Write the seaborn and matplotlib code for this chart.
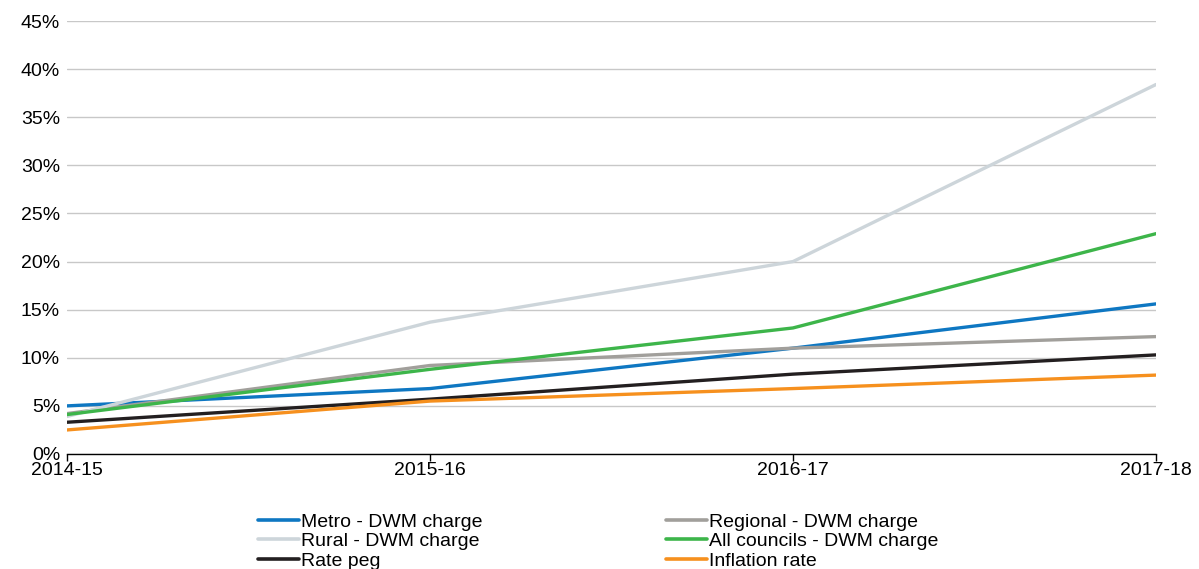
import matplotlib
matplotlib.use("Agg")
import matplotlib.pyplot as plt
import seaborn as sns
import pandas as pd
from matplotlib.ticker import FuncFormatter, MultipleLocator

years = ["2014-15", "2015-16", "2016-17", "2017-18"]
metro = [5.0, 6.8, 11.0, 15.6]
regional = [4.2, 9.2, 11.0, 12.2]
rural = [3.9, 13.7, 20.0, 38.4]
all_councils = [4.1, 8.8, 13.1, 22.9]
rate_peg = [3.3, 5.7, 8.3, 10.3]
inflation = [2.5, 5.5, 6.8, 8.2]

series_names = ["Metro - DWM charge", "Regional - DWM charge", "Rural - DWM charge",
                "All councils - DWM charge", "Rate peg", "Inflation rate"]
series_vals = [metro, regional, rural, all_councils, rate_peg, inflation]
colors = ["#0E77C2", "#A19F9B", "#CDD5DA", "#3DB54A", "#231F20", "#F6901E"]

rows = []
for name, vals in zip(series_names, series_vals):
    for i, (y, v) in enumerate(zip(years, vals)):
        rows.append({"pos": i, "year": y, "value": v, "series": name})
df = pd.DataFrame(rows)

sns.set_theme(style="white")
plt.rcParams["font.family"] = ["Liberation Sans", "DejaVu Sans"]

fig = plt.figure(figsize=(11.99, 5.69), dpi=100)
ax = fig.add_axes([67/1199, 1 - 454/569, (1156-67)/1199, (454-21)/569])

sns.lineplot(data=df, x="pos", y="value", hue="series", hue_order=series_names,
             palette=colors, linewidth=2.4, ax=ax, legend=True)

ax.set_xlim(0, 3)
ax.set_ylim(0, 45)
ax.yaxis.set_major_locator(MultipleLocator(5))
ax.yaxis.set_major_formatter(FuncFormatter(lambda v, p: f"{int(v)}%"))
ax.set_xticks(range(len(years)))
ax.set_xticklabels(years)
ax.grid(axis="y", color="#C8C8C8", linewidth=1)
ax.set_axisbelow(True)
for s in ["left", "right", "top"]:
    ax.spines[s].set_visible(False)
ax.spines["bottom"].set_color("black")
ax.spines["bottom"].set_linewidth(1)
ax.tick_params(axis="x", which="major", direction="out", length=5, width=1,
               color="black", labelsize=14, labelcolor="black", pad=1, bottom=True)
ax.tick_params(axis="y", length=0, labelsize=14, labelcolor="black", pad=5)
ax.set_xlabel("")
ax.set_ylabel("")

handles, labels = ax.get_legend_handles_labels()
ax.get_legend().remove()
order = [0, 2, 4, 1, 3, 5]
leg = fig.legend([handles[i] for i in order], [labels[i] for i in order],
                 ncol=2, loc="upper left", bbox_to_anchor=(258/1199, 1 - 513/569),
                 frameon=False, fontsize=14, handlelength=2.1, handletextpad=0.1,
                 labelspacing=0.1, columnspacing=9.45, borderpad=0, borderaxespad=0)
for t in leg.get_texts():
    t.set_color("black")
for h in leg.get_lines():
    h.set_linewidth(2.6)

fig.savefig("out.png", dpi=100)
